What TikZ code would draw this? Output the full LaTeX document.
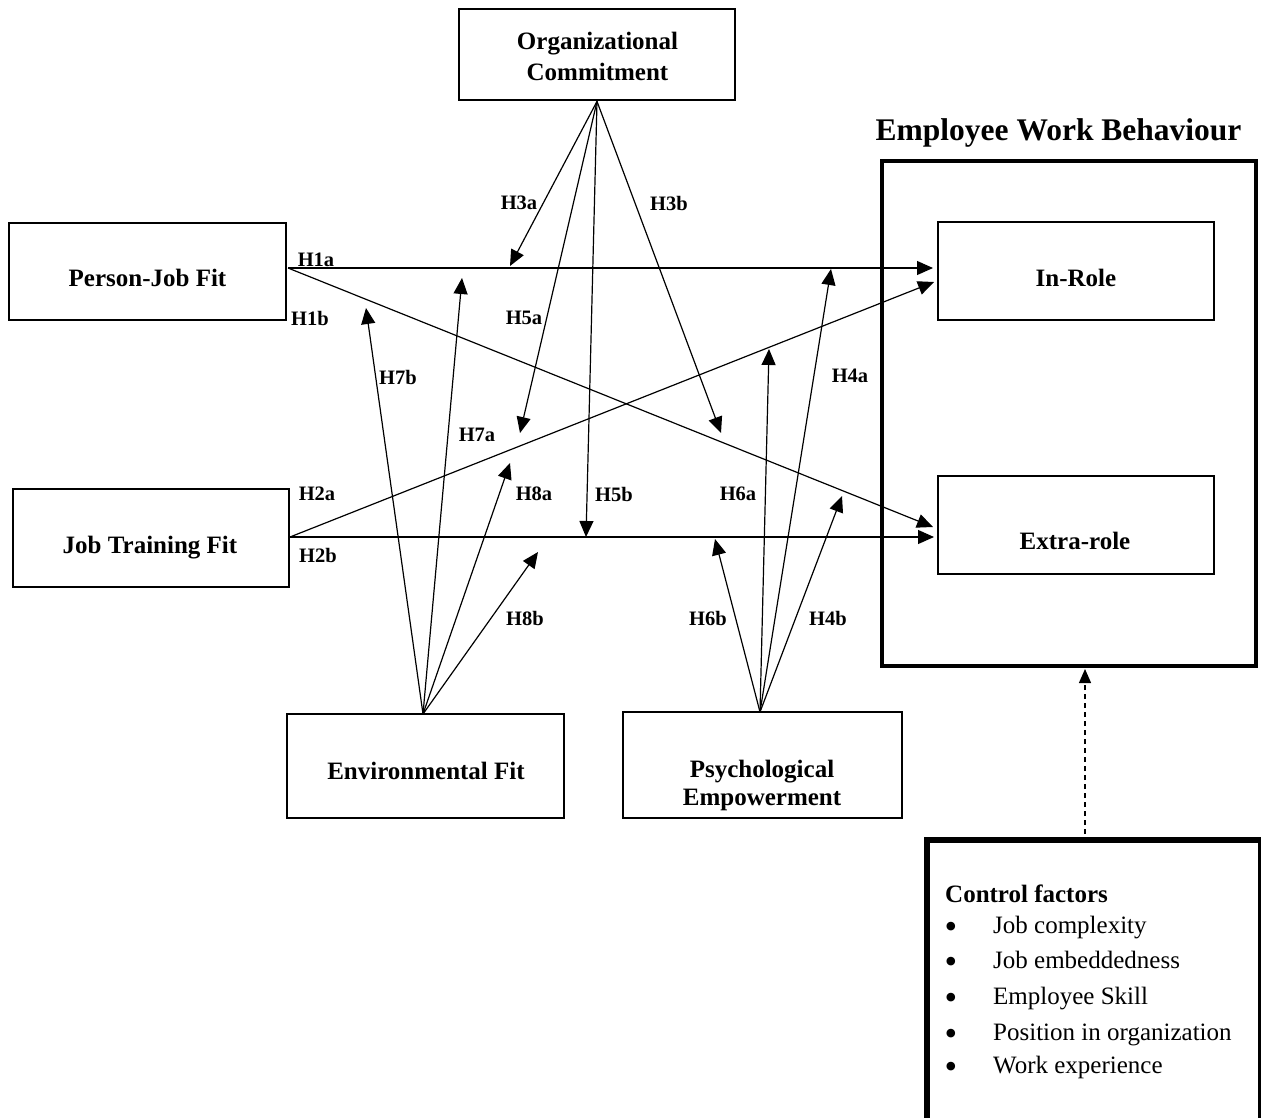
\documentclass[tikz,border=0pt]{standalone}
\usepackage{fontspec}
\setmainfont{Liberation Serif}
\usetikzlibrary{arrows.meta}
\begin{document}
\begin{tikzpicture}[x=1pt,y=-1pt,
  box/.style={draw, line width=2.8pt, inner sep=0pt},
  btxt/.style={font=\fontsize{25}{31}\selectfont\bfseries, inner sep=0pt, align=center},
  hyp/.style={font=\fontsize{20.5}{24}\selectfont\bfseries, inner sep=0pt},
  ctxt/.style={font=\fontsize{25}{30}\selectfont, inner sep=0pt},
  bul/.style={font=\fontsize{36}{38}\selectfont, inner sep=0pt, anchor=base, text height=12pt, text depth=0pt},
  link/.style={line width=1.2pt, -{Triangle[length=16pt,width=14pt]}},
  dashlink/.style={line width=1.2pt, dash pattern=on 5pt off 4pt, -{Triangle[length=14pt,width=12pt]}},
]
\useasboundingbox (0,0) rectangle (1261,1118);
\clip (0,0) rectangle (1261,1118);

% boxes
\node[box, minimum width=276pt, minimum height=91pt] (oc) at (597,54.5) {};
\node[box, minimum width=277pt, minimum height=97pt] (pj) at (147.5,271.5) {};
\node[box, minimum width=276pt, minimum height=98pt] (jtf) at (151,538) {};
\node[box, minimum width=277pt, minimum height=104pt] (env) at (425.5,766) {};
\node[box, minimum width=279pt, minimum height=106pt] (pe) at (762.5,765) {};
\node[box, line width=3.2pt, minimum width=374pt, minimum height=505pt] (ewb) at (1069,413.5) {};
\node[box, minimum width=276pt, minimum height=98pt] (inr) at (1076,271) {};
\node[box, minimum width=276pt, minimum height=98pt] (exr) at (1076,525) {};
\node[draw, line width=6pt, inner sep=0pt, minimum width=334pt, minimum height=300pt, anchor=north west] (cf) at (924,837) {};

% box texts
\node[btxt] (oct) at (597.5,56) {Organizational\\Commitment};
\node[btxt, anchor=base] (pjt) at (147.5,287) {Person-Job Fit};
\node[btxt, anchor=base] (jtft) at (150,553) {Job Training Fit};
\node[btxt, anchor=base] (envt) at (426,779) {Environmental Fit};
\node[btxt, font=\fontsize{25}{28}\selectfont\bfseries] (pet) at (762,785) {Psychological\\Empowerment};
\node[btxt, anchor=base] (inrt) at (1076,287) {In-Role};
\node[btxt, anchor=base] (exrt) at (1075,549) {Extra-role};
\node[btxt, anchor=base, font=\fontsize{31.5}{36}\selectfont\bfseries] (title) at (1058.5,141) {Employee Work Behaviour};

% control factors
\node[ctxt, font=\fontsize{25}{30}\selectfont\bfseries, anchor=base west] (cft) at (945,902) {Control factors};
\node[bul] (b1) at (951,938) {•};
\node[bul] (b2) at (951,973) {•};
\node[bul] (b3) at (951,1009) {•};
\node[bul] (b4) at (951,1045) {•};
\node[bul] (b5) at (951,1078) {•};
\node[ctxt, anchor=base west] (i1) at (993,933) {Job complexity};
\node[ctxt, anchor=base west] (i2) at (993,968) {Job embeddedness};
\node[ctxt, anchor=base west] (i3) at (993,1004) {Employee Skill};
\node[ctxt, anchor=base west] (i4) at (993,1040) {Position in organization};
\node[ctxt, anchor=base west] (i5) at (993,1073) {Work experience};

% origins and end points
\coordinate (pjo) at (288,268);
\coordinate (jto) at (290,537);
\coordinate (envo) at (423,714);
\coordinate (peo) at (760,712);
\coordinate (h1aE) at (933,268);
\coordinate (h1bE) at (933,527);
\coordinate (h2aE) at (934,282);
\coordinate (h2bE) at (934,537);
\coordinate (h3aE) at (510,266);
\coordinate (h3bE) at (721,433);
\coordinate (h5aE) at (520,433);
\coordinate (h5bE) at (586,537);
\coordinate (h7aE) at (462,278);
\coordinate (h7bE) at (366,308);
\coordinate (h8aE) at (510,463);
\coordinate (h8bE) at (538,552);
\coordinate (h6aE) at (769,349);
\coordinate (h6bE) at (715,539);
\coordinate (h4aE) at (831,269);
\coordinate (h4bE) at (842,496);
\coordinate (dtop) at (1085,834);
\coordinate (dend) at (1085,669);

% connectors
\draw[link] (pjo) -- (h1aE);
\draw[link] (pjo) -- (h1bE);
\draw[link] (jto) -- (h2aE);
\draw[link] (jto) -- (h2bE);
\draw[link] (oc.south) -- (h3aE);
\draw[link] (oc.south) -- (h5aE);
\draw[link] (oc.south) -- (h5bE);
\draw[link] (oc.south) -- (h3bE);
\draw[link] (envo) -- (h7bE);
\draw[link] (envo) -- (h7aE);
\draw[link] (envo) -- (h8aE);
\draw[link] (envo) -- (h8bE);
\draw[link] (peo) -- (h6bE);
\draw[link] (peo) -- (h6aE);
\draw[link] (peo) -- (h4aE);
\draw[link] (peo) -- (h4bE);
\draw[dashlink] (dtop) -- (dend);

% hypothesis labels
\node[hyp] (l1a) at (316,259.5) {H1a};
\node[hyp] (l1b) at (310,318) {H1b};
\node[hyp] (l2a) at (317,494) {H2a};
\node[hyp] (l2b) at (318,555) {H2b};
\node[hyp] (l3a) at (519,203) {H3a};
\node[hyp] (l3b) at (669,203) {H3b};
\node[hyp] (l5a) at (524,318) {H5a};
\node[hyp] (l5b) at (614,494) {H5b};
\node[hyp] (l7b) at (398,377) {H7b};
\node[hyp] (l7a) at (477,435) {H7a};
\node[hyp] (l8a) at (534,494) {H8a};
\node[hyp] (l8b) at (525,618) {H8b};
\node[hyp] (l6a) at (738,494) {H6a};
\node[hyp] (l6b) at (708,618) {H6b};
\node[hyp] (l4a) at (850,376) {H4a};
\node[hyp] (l4b) at (828,618) {H4b};
\end{tikzpicture}
\end{document}
